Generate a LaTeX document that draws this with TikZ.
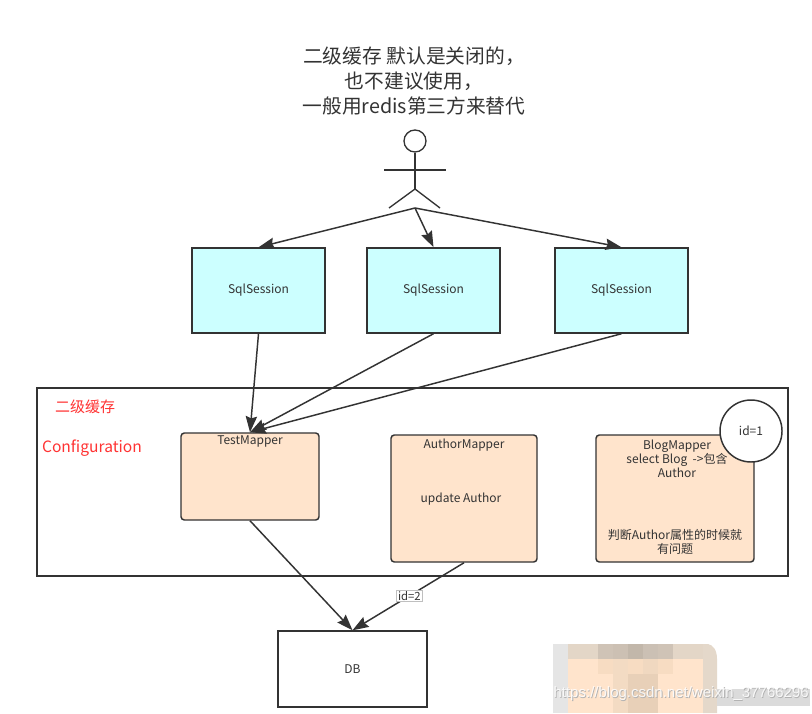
\documentclass[tikz,border=0pt]{standalone}
\usepackage{fontspec}
\setmainfont{Noto Sans CJK SC}
\newfontfamily\markfont{Liberation Sans}
\usetikzlibrary{arrows.meta,calc}
\definecolor{ink}{HTML}{333333}
\definecolor{cyanbox}{HTML}{CCFFFF}
\definecolor{peach}{HTML}{FFE4CC}
\definecolor{redtxt}{HTML}{FF3333}
\definecolor{mA}{HTML}{E3D6C7}
\definecolor{mB}{HTML}{CFC3B6}
\definecolor{mC}{HTML}{CCC0B3}
\definecolor{mD}{HTML}{C2B7AA}
\definecolor{mE}{HTML}{CBC0B4}
\definecolor{mF}{HTML}{E4D8CA}
\definecolor{mG}{HTML}{F7DCC2}
\definecolor{mH}{HTML}{F3DBC3}
\definecolor{mI}{HTML}{F0D8C0}
\definecolor{mJ}{HTML}{E8D0B8}
\tikzset{
  x=0.75pt,y=-0.75pt,
  box/.style={draw=ink,line width=1.1pt,inner sep=0pt,font=\fontsize{9pt}{10.5pt}\selectfont,text=ink},
  sqlbox/.style={box,fill=cyanbox,minimum width=99.75pt,minimum height=63.75pt},
  mapbox/.style={box,fill=peach,rounded corners=2.5pt},
  lbl/.style={inner sep=0pt,font=\fontsize{9pt}{10.5pt}\selectfont,text=ink,align=center},
  redlbl/.style={inner sep=0pt,text=redtxt},
  conn/.style={draw=ink,line width=1.1pt,-{Stealth[length=12pt,width=8.5pt,inset=1.5pt]}},
  limb/.style={draw=ink,line width=1pt},
  wm/.style={inner sep=0pt,font=\markfont\fontsize{11.25pt}{13pt}\selectfont,anchor=east}
}
\begin{document}
\begin{tikzpicture}
\useasboundingbox (0,0) rectangle (812,713);
\fill[white] (0,0) rectangle (812,713);
% title
\node[inner sep=0pt,text=ink,align=center,font=\fontsize{14.8pt}{18.9pt}\selectfont] (title) at (414,81) {二级缓存 默认是关闭的，\\也不建议使用，\\一般用redis第三方来替代};
% actor
\node[circle,draw=ink,line width=1pt,minimum size=16.5pt,inner sep=0pt] (head) at (415,141) {};
\coordinate (hip) at (415,189);
\coordinate (armL) at (384,170);
\coordinate (armR) at (446,170);
\coordinate (legL) at (389,208);
\coordinate (legR) at (440,208);
\coordinate (actor) at (415,208);
\draw[limb] (head.south) -- (hip);
\draw[limb] (armL) -- (armR);
\draw[limb] (legL) -- (hip) -- (legR);
% configuration frame
\node[draw=ink,line width=1.1pt,minimum width=563.25pt,minimum height=141pt,inner sep=0pt] (cfg) at (412.5,482) {};
\node[redlbl,font=\fontsize{11.25pt}{13pt}\selectfont] (l2) at (85,406.5) {二级缓存};
\node[redlbl,font=\fontsize{11.7pt}{13pt}\selectfont] (conf) at (92,448) {Configuration};
% sessions
\node[sqlbox] (s1) at (258.5,290.5) {\raisebox{1.5pt}{SqlSession}};
\node[sqlbox] (s2) at (433.5,290.5) {\raisebox{1.5pt}{SqlSession}};
\node[sqlbox] (s3) at (621.5,290.5) {\raisebox{1.5pt}{SqlSession}};
% mappers
\node[mapbox,minimum width=103.5pt,minimum height=65.25pt] (test) at (250,476.5) {};
\node[lbl] (testt) at (250,441) {TestMapper};
\node[mapbox,minimum width=109.5pt,minimum height=95.25pt] (author) at (464,498.5) {};
\node[lbl] (autht) at (464,445) {AuthorMapper};
\node[lbl] (authu) at (461,499) {update Author};
\node[mapbox,minimum width=118.5pt,minimum height=95.25pt] (blog) at (675,498.5) {};
\node[lbl] (blogt) at (677,458.5) {BlogMapper\\select Blog~~->包含\\Author};
\node[lbl] (blogb) at (675,541.5) {判断Author属性的时候就\\有问题};
\node[circle,draw=ink,fill=white,line width=1.1pt,minimum size=46.5pt,inner sep=0pt,font=\fontsize{9pt}{10.5pt}\selectfont,text=ink] (idone) at (751,431) {id=1};
% db
\node[box,fill=white,minimum width=111.75pt,minimum height=57pt] (db) at (352.5,669) {DB};
% connectors
\draw[conn] (actor) -- (s1.north);
\draw[conn] (actor) -- (s2.north);
\draw[conn] (actor) -- (s3.north);
\draw[conn] (s1.south) -- (test.north);
\draw[conn] (s2.south) -- (test.north);
\draw[conn] (s3.south) -- (test.north);
\draw[conn] (test.south) -- (db.north);
\draw[conn] (author.south) -- (db.north) node[pos=0.49,fill=white,draw=black!25,line width=0.4pt,inner sep=1pt,font=\fontsize{8.5pt}{10pt}\selectfont,text=ink] (idtwo) {id=2};
% mosaic
\fill[black!10] (553,644) rectangle (568,713);
\fill[peach] (568,659) rectangle (703,713);
\fill[mA] (568,644) rectangle (598,659);
\fill[mB] (598,644) rectangle (613,659);
\fill[mC] (613,644) rectangle (628,659);
\fill[mD] (628,644) rectangle (643,659);
\fill[mE] (643,644) rectangle (658,659);
\fill[mB] (658,644) rectangle (673,659);
\fill[mA] (673,644) rectangle (703,659);
\fill[mF] (703,644) -- (708,644) .. controls (713,645) and (717,650) .. (717,659) -- (717,713) -- (703,713) -- cycle;
\fill[mG] (598,659) rectangle (613,674);
\fill[mH] (613,659) rectangle (628,713);
\fill[mG] (628,659) rectangle (643,674);
\fill[mI] (643,659) rectangle (658,674);
\fill[mG] (658,659) rectangle (673,674);
\fill[mJ] (628,674) rectangle (658,713);
\fill[black!14] (717,689) rectangle (810,706);
\node[wm,text=black!30] (markshadow) at (809.8,694.8) {https://blog.csdn.net/weixin\_37766296};
\node[wm,text=white,opacity=0.85] (mark) at (809,694) {https://blog.csdn.net/weixin\_37766296};
\end{tikzpicture}
\end{document}
